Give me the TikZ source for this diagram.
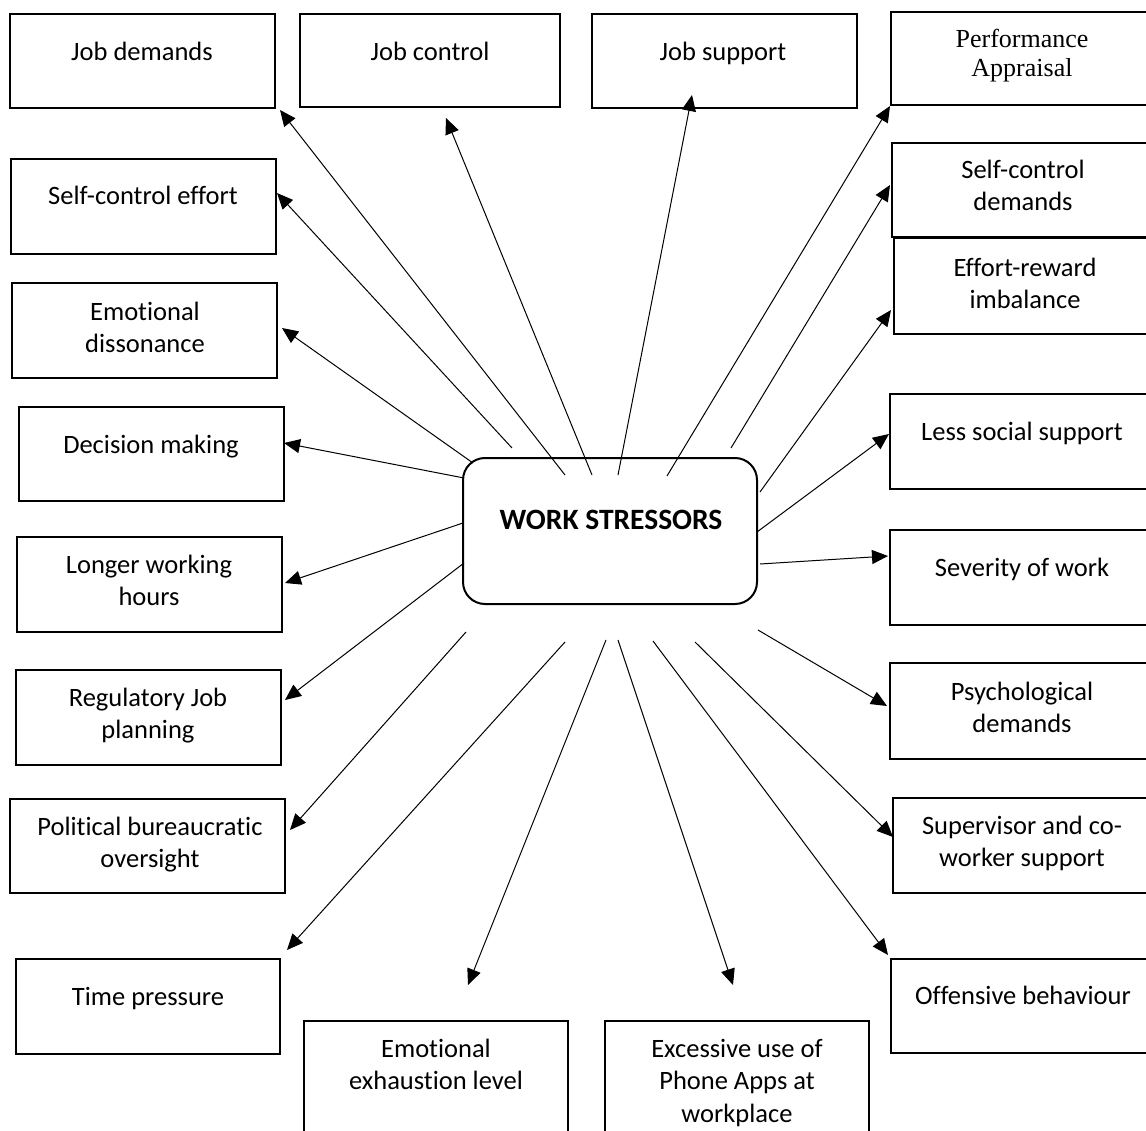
\documentclass[tikz,border=0pt]{standalone}
\usepackage{fontspec}
\setmainfont{Carlito}[Ligatures=NoCommon]
\newfontfamily\timesfam{Liberation Serif}[Ligatures=NoCommon]
\usetikzlibrary{arrows.meta}
\newcommand\hstrut{\rule{0pt}{21pt}}
\newcommand\wbox[5]{\node[box, minimum width={(#4)-(#2)}, minimum height={(#5)-(#3)}] (#1) at ({((#2)+(#4))/2},{((#3)+(#5))/2}) {};}
\begin{document}
\begin{tikzpicture}[x=1pt,y=-1pt,
  box/.style={draw, line width=1.5pt, inner sep=0pt, outer sep=0pt},
  lbl/.style={font=\fontsize{26.5pt}{32.5pt}\selectfont, align=center, anchor=north, inner sep=0pt},
  arr/.style={line width=1pt, -{Triangle[length=16pt,width=14pt]}},
  centre/.style={draw, line width=2pt, rounded corners=22pt, inner sep=0pt}]
\useasboundingbox (0,0) rectangle (1146,1131);
\fill[white] (0,0) rectangle (1146,1131);
\clip (0,0) rectangle (1146,1131);

% boxes
\wbox{jd}{10}{14}{275}{108}
\wbox{jc}{300}{14}{560}{107}
\wbox{js}{592}{14}{857}{108}
\wbox{pa}{891}{12}{1160}{105}
\wbox{sce}{11}{159}{276}{254}
\wbox{scd}{892}{143}{1160}{237}
\wbox{err}{894}{238}{1160}{334}
\wbox{ed}{12}{283}{277}{378}
\wbox{dm}{19}{407}{284}{501}
\wbox{lss}{890}{394}{1160}{489}
\wbox{lwh}{17}{537}{282}{632}
\wbox{sow}{890}{530}{1160}{625}
\wbox{rjp}{16}{670}{281}{765}
\wbox{psd}{890}{663}{1160}{759}
\wbox{pbo}{10}{799}{285}{893}
\wbox{scw}{893}{798}{1160}{893}
\wbox{tp}{16}{959}{280}{1054}
\wbox{ob}{891}{959}{1160}{1053}
\wbox{ee}{304}{1021}{568}{1150}
\wbox{pha}{605}{1021}{869}{1150}

% central box
\node[centre, minimum width=294pt, minimum height=146pt] (ws) at (610,531) {};
\node[anchor=base, inner sep=0pt, font=\fontsize{29.5pt}{34pt}\selectfont\bfseries] (ws-t) at (611,529) {WORK STRESSORS};

% labels
\node[lbl] (jd-t) at (142,39) {\hstrut Job demands};
\node[lbl] (jc-t) at (430,39) {\hstrut Job control};
\node[lbl] (js-t) at (723,39) {\hstrut Job support};
\node[lbl, font=\timesfam\fontsize{26pt}{29pt}\selectfont] (pa-t) at (1022,26) {\hstrut Performance\\Appraisal};
\node[lbl] (sce-t) at (143,183) {\hstrut Self-control effort};
\node[lbl] (scd-t) at (1023,157) {\hstrut Self-control\\demands};
\node[lbl] (err-t) at (1025,255) {\hstrut Effort-reward\\imbalance};
\node[lbl] (ed-t) at (145,299) {\hstrut Emotional\\dissonance};
\node[lbl] (dm-t) at (151,432) {\hstrut Decision making};
\node[lbl] (lss-t) at (1022,419) {\hstrut Less social support};
\node[lbl] (lwh-t) at (149,552) {\hstrut Longer working\\hours};
\node[lbl] (sow-t) at (1022,555) {\hstrut Severity of work};
\node[lbl] (rjp-t) at (148,685) {\hstrut Regulatory Job\\planning};
\node[lbl] (psd-t) at (1022,679) {\hstrut Psychological\\demands};
\node[lbl] (pbo-t) at (150,814) {\hstrut Political bureaucratic\\oversight};
\node[lbl] (scw-t) at (1022,813) {\hstrut Supervisor and co-\\worker support};
\node[lbl] (tp-t) at (148,984) {\hstrut Time pressure};
\node[lbl] (ob-t) at (1023,983) {\hstrut Offensive behaviour};
\node[lbl] (ee-t) at (436,1036) {\hstrut Emotional\\exhaustion level};
\node[lbl] (pha-t) at (737,1036) {\hstrut Excessive use of\\Phone Apps at\\workplace};

% connector ends
\coordinate (t-jd) at (565,475);  \coordinate (h-jd) at (280,110);
\coordinate (t-sce) at (512,448); \coordinate (h-sce) at (277,193);
\coordinate (t-ed) at (473,463);  \coordinate (h-ed) at (282,328);
\coordinate (t-dm) at (464,478);  \coordinate (h-dm) at (284,443);
\coordinate (t-lwh) at (463,523); \coordinate (h-lwh) at (285,583);
\coordinate (t-rjp) at (464,563); \coordinate (h-rjp) at (285,700);
\coordinate (t-pbo) at (466,632); \coordinate (h-pbo) at (290,830);
\coordinate (t-tp) at (565,642);  \coordinate (h-tp) at (287,950);
\coordinate (t-ee) at (606,640);  \coordinate (h-ee) at (468,985);
\coordinate (t-pha) at (618,640); \coordinate (h-pha) at (733,985);
\coordinate (t-ob) at (653,641);  \coordinate (h-ob) at (888,955);
\coordinate (t-scw) at (695,642); \coordinate (h-scw) at (893,837);
\coordinate (t-psd) at (758,630); \coordinate (h-psd) at (887,706);
\coordinate (t-sow) at (760,564); \coordinate (h-sow) at (888,556);
\coordinate (t-lss) at (757,532); \coordinate (h-lss) at (889,434);
\coordinate (t-err) at (760,492); \coordinate (h-err) at (891,310);
\coordinate (t-scd) at (731,448); \coordinate (h-scd) at (890,185);
\coordinate (t-pa) at (667,476);  \coordinate (h-pa) at (890,106);
\coordinate (t-js) at (618,475);  \coordinate (h-js) at (692,95);
\coordinate (t-jc) at (592,475);  \coordinate (h-jc) at (446,118);

\foreach \n in {jd,sce,ed,dm,lwh,rjp,pbo,tp,ee,pha,ob,scw,psd,sow,lss,err,scd,pa,js,jc}
  \draw[arr] (t-\n) -- (h-\n);
\end{tikzpicture}
\end{document}
